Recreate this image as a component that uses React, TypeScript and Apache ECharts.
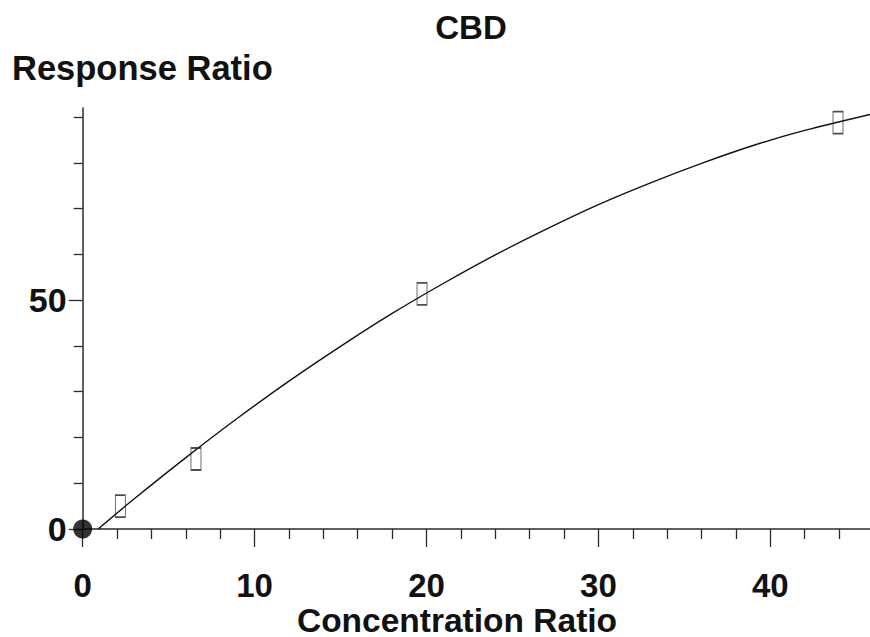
import React, { useEffect, useRef } from "react";
import * as echarts from "echarts";

// Calibration standards
const concentration = [2.19, 6.59, 19.74, 43.94];
const response = [5.0, 15.3, 51.4, 88.8];
const originPoint = [0, 0];

// Fitted curve
const curveX = [0.9, 3, 6, 9, 12, 15, 18, 21, 24, 27, 30, 33, 36, 39, 42, 45.8];
const curveY = [0, 6.6, 15.6, 24.2, 32.3, 39.9, 47.1, 53.7, 59.9, 65.6, 70.9, 75.6, 79.9, 83.8, 87.1, 90.6];

// Ticks
const xMajorTicks = [0, 10, 20, 30, 40];
const xMinorTicks = [2, 4, 6, 8, 12, 14, 16, 18, 22, 24, 26, 28, 32, 34, 36, 38, 42, 44];
const yMajorTicks = [0, 50];
const yMinorTicks = [10, 20, 30, 40, 60, 70, 80, 90];

const title = "CBD";
const yTitle = "Response Ratio";
const xTitle = "Concentration Ratio";

const FONT = "'Liberation Sans', Arial, Helvetica, sans-serif";
const INK = "#111111";

export default function App() {
  const ref = useRef<HTMLDivElement>(null);

  useEffect(() => {
    if (!ref.current) return;
    const chart = echarts.init(ref.current, undefined, { renderer: "svg" });
    const axisLineStyle = { color: "#2a2a2a", width: 1.5 };
    const tickStyle = { color: "#2a2a2a", width: 1.3 };
    const labelStyle = {
      fontFamily: FONT,
      fontWeight: "bold" as const,
      fontSize: 33,
      color: INK,
    };
    chart.setOption({
      animation: false,
      backgroundColor: "#ffffff",
      grid: { left: 82.7, right: 0, top: 108, bottom: 108, containLabel: false },
      graphic: [
        {
          type: "text",
          x: 471,
          y: 27,
          style: {
            text: title,
            font: `bold 33px ${FONT}`,
            fill: INK,
            textAlign: "center",
            textVerticalAlign: "middle",
          },
        },
        {
          type: "text",
          x: 12,
          y: 67.5,
          style: {
            text: yTitle,
            font: `bold 34.5px ${FONT}`,
            fill: INK,
            textAlign: "left",
            textVerticalAlign: "middle",
          },
        },
        {
          type: "text",
          x: 457,
          y: 620,
          style: {
            text: xTitle,
            font: `bold 33.5px ${FONT}`,
            fill: INK,
            textAlign: "center",
            textVerticalAlign: "middle",
          },
        },
      ],
      xAxis: [
        {
          type: "value",
          min: 0,
          max: 45.8,
          position: "bottom",
          axisLine: { show: true, onZero: false, lineStyle: axisLineStyle },
          axisTick: { show: true, customValues: xMinorTicks, length: 10, lineStyle: tickStyle },
          axisLabel: { show: false },
          splitLine: { show: false },
        },
        {
          type: "value",
          min: 0,
          max: 45.8,
          position: "bottom",
          offset: 0,
          axisLine: { show: false, onZero: false },
          axisTick: { show: true, customValues: xMajorTicks, length: 18, lineStyle: tickStyle },
          axisLabel: {
            show: true,
            customValues: xMajorTicks,
            margin: 56,
            verticalAlign: "middle",
            ...labelStyle,
          },
          splitLine: { show: false },
        },
      ],
      yAxis: [
        {
          type: "value",
          min: 0,
          max: 92,
          position: "left",
          axisLine: { show: true, onZero: false, lineStyle: axisLineStyle },
          axisTick: { show: true, customValues: yMinorTicks, length: 9, lineStyle: tickStyle },
          axisLabel: { show: false },
          splitLine: { show: false },
        },
        {
          type: "value",
          min: 0,
          max: 92,
          position: "left",
          offset: 0,
          axisLine: { show: false, onZero: false },
          axisTick: { show: true, customValues: yMajorTicks, length: 14, lineStyle: tickStyle },
          axisLabel: {
            show: true,
            customValues: yMajorTicks,
            margin: 16,
            align: "right",
            ...labelStyle,
            fontSize: 34,
          },
          splitLine: { show: false },
        },
      ],
      series: [
        {
          type: "line",
          name: "fit",
          xAxisIndex: 0,
          yAxisIndex: 0,
          data: curveX.map((x, i) => [x, curveY[i]]),
          smooth: 0.3,
          showSymbol: false,
          symbol: "none",
          lineStyle: { color: "#111", width: 1.4 },
          silent: true,
          z: 3,
        },
        {
          type: "scatter",
          name: "standards",
          xAxisIndex: 0,
          yAxisIndex: 0,
          data: concentration.map((x, i) => [x, response[i]]),
          symbol: "rect",
          symbolSize: [10, 22],
          itemStyle: { color: "rgba(255,255,255,0)", borderColor: "#222", borderWidth: 1.2 },
          z: 4,
        },
        {
          type: "scatter",
          name: "origin",
          xAxisIndex: 0,
          yAxisIndex: 0,
          data: [originPoint],
          symbol: "circle",
          symbolSize: 19,
          itemStyle: { color: "#000" },
          clip: false,
          z: 5,
        },
      ],
    });
    return () => chart.dispose();
  }, []);

  return (
    <div
      ref={ref}
      style={{ position: "fixed", left: 0, top: 0, width: 870, height: 637, background: "#fff" }}
    />
  );
}
